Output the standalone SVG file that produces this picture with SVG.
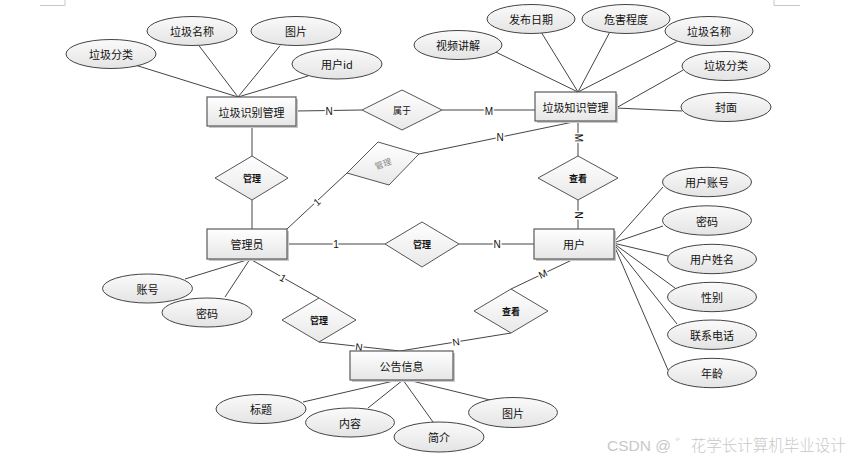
<svg xmlns="http://www.w3.org/2000/svg" width="859" height="461" viewBox="0 0 859 461">
<defs>
<linearGradient id="gEnt" x1="0" y1="0" x2="0" y2="1">
<stop offset="0" stop-color="#ffffff"/>
<stop offset="1" stop-color="#e6e6e6"/>
</linearGradient>
<linearGradient id="gEll" x1="0" y1="0" x2="0" y2="1">
<stop offset="0" stop-color="#fafafa"/>
<stop offset="1" stop-color="#e4e4e4"/>
</linearGradient>
<linearGradient id="gDia" x1="0" y1="0" x2="0" y2="1">
<stop offset="0" stop-color="#ffffff"/>
<stop offset="1" stop-color="#e8e8e8"/>
</linearGradient>
</defs>
<style>
.ent{fill:url(#gEnt);stroke:#5a5a5a;stroke-width:1.2}
.sh{fill:#c8c8c8}
.ell{fill:url(#gEll);stroke:#444;stroke-width:1}
.dia{fill:url(#gDia);stroke:#555;stroke-width:1}
.t{font-family:"Noto Sans CJK SC","Liberation Sans",sans-serif;font-size:11px;fill:#111;text-anchor:middle;dominant-baseline:central}
.td{font-family:"Noto Sans CJK SC","Liberation Sans",sans-serif;font-size:9px;font-weight:bold;fill:#111;text-anchor:middle;dominant-baseline:central}
.tn{font-family:"Noto Sans CJK SC","Liberation Sans",sans-serif;font-size:9px;fill:#111;text-anchor:middle;dominant-baseline:central}
.tg{font-family:"Noto Sans CJK SC","Liberation Sans",sans-serif;font-size:8.5px;fill:#888;text-anchor:middle;dominant-baseline:central}
.lbl{font-family:"Liberation Sans",sans-serif;font-size:10px;fill:#111;text-anchor:middle;dominant-baseline:central;stroke:#fff;stroke-width:3;paint-order:stroke}
.ln{stroke:#444;stroke-width:1;fill:none}
.mark{stroke:#c8c8c8;stroke-width:1;fill:none}
</style>
<rect width="859" height="461" fill="#fff"/>
<path class="mark" d="M40 5.5H65V0M774 0V5.5H800"/>

<g id="connectors">
<path class="ln" d="M135 65L238 97M199 45.7L238 97M280 45.7L238 97M308 76L238 97"/>
<path class="ln" d="M495 51.7L578 92M541.7 33L578 92M609.3 33L578 92M676.7 41.7L578 92M683.3 70L616 108M616 108L682 111"/>
<path class="ln" d="M185 279L250 259M225 297L250 259"/>
<path class="ln" d="M303 402L398 380M368 408L403 380M433 422L403 380M490 400L408 380"/>
<path class="ln" d="M613 243L663 187M613 243L663 226M613 243L668 256M613 243L675 288M613 243L677 324M613 243L668 370"/>
<path class="ln" d="M296 111L362 110M442 110L535 110"/>
<path class="ln" d="M252 126V156M252 200V229"/>
<path class="ln" d="M287 229L347 173M419 154L578 121"/>
<path class="ln" d="M578 121V156M578 200V229"/>
<path class="ln" d="M287 244H385M459 244H534"/>
<path class="ln" d="M250 259L319 298M319 342L400 351M511 333L400 351M511 289L574 259"/>
<text class="lbl" x="329" y="111">N</text>
<text class="lbl" x="489" y="111">M</text>
<text class="lbl" x="317" y="202" transform="rotate(-42 317 202)">1</text>
<text class="lbl" x="500" y="137">N</text>
<text class="lbl" x="578" y="138" transform="rotate(90 578 138)">M</text>
<text class="lbl" x="578" y="215" transform="rotate(90 578 215)">N</text>
<text class="lbl" x="336" y="244">1</text>
<text class="lbl" x="497" y="244">N</text>
<text class="lbl" x="283" y="278" font-size="8" transform="rotate(30 283 278)">1</text>
<text class="lbl" x="359" y="347" font-size="8" transform="rotate(7 359 347)">N</text>
<text class="lbl" x="456" y="342" font-size="8" transform="rotate(-9 456 342)">N</text>
<text class="lbl" x="543" y="274" font-size="8" transform="rotate(-26 543 274)">M</text>
</g>

<g id="e-garbage-recog">
<rect class="sh" x="209" y="99" width="89" height="29"/>
<rect class="ent" x="207" y="97" width="89" height="29"/>
<text class="t" x="251.5" y="111.5">垃圾识别管理</text>
</g>
<g id="e-garbage-know">
<rect class="sh" x="537" y="94" width="81" height="29"/>
<rect class="ent" x="535" y="92" width="81" height="29"/>
<text class="t" x="575.5" y="106.5">垃圾知识管理</text>
</g>
<g id="e-admin">
<rect class="sh" x="209" y="231" width="80" height="30"/>
<rect class="ent" x="207" y="229" width="80" height="30"/>
<text class="t" x="247" y="244">管理员</text>
</g>
<g id="e-user">
<rect class="sh" x="536" y="231" width="80" height="30"/>
<rect class="ent" x="534" y="229" width="80" height="30"/>
<text class="t" x="574" y="244">用户</text>
</g>
<g id="e-notice">
<rect class="sh" x="352" y="353" width="103" height="29"/>
<rect class="ent" x="350" y="351" width="103" height="29"/>
<text class="t" x="401.5" y="365.5">公告信息</text>
</g>

<g id="r-belong">
<polygon class="dia" points="402,90 442,110 402,130 362,110"/>
<text class="tn" x="402" y="110">属于</text>
</g>
<g id="r-manage1">
<polygon class="dia" points="252,156 288,178 252,200 215,178"/>
<text class="td" x="252" y="178">管理</text>
</g>
<g id="r-manage-rot">
<polygon class="dia" points="378,142 419,154 389,185 347,173"/>
<text class="tg" x="383" y="163" transform="rotate(-20 383 163)">管理</text>
</g>
<g id="r-view1">
<polygon class="dia" points="578,156 618,178 578,200 538,178"/>
<text class="td" x="578" y="178">查看</text>
</g>
<g id="r-manage2">
<polygon class="dia" points="422,222 459,244 422,267 385,244"/>
<text class="td" x="422" y="244">管理</text>
</g>
<g id="r-manage3">
<polygon class="dia" points="319,298 356,320 319,342 282,320"/>
<text class="td" x="319" y="320">管理</text>
</g>
<g id="r-view2">
<polygon class="dia" points="511,289 548,311 511,333 474,311"/>
<text class="td" x="511" y="311">查看</text>
</g>

<g id="a-tl-class"><ellipse class="ell" cx="111" cy="54" rx="45" ry="14.5"/><text class="t" x="111" y="54">垃圾分类</text></g>
<g id="a-tl-name"><ellipse class="ell" cx="192" cy="31" rx="45" ry="14.5"/><text class="t" x="192" y="31">垃圾名称</text></g>
<g id="a-tl-pic"><ellipse class="ell" cx="296" cy="31" rx="45" ry="14.5"/><text class="t" x="296" y="31">图片</text></g>
<g id="a-tl-uid"><ellipse class="ell" cx="337" cy="64" rx="45" ry="15"/><text class="t" x="337" y="64">用户id</text></g>

<g id="a-tr-video"><ellipse class="ell" cx="458" cy="45" rx="44" ry="14.5"/><text class="t" x="458" y="45">视频讲解</text></g>
<g id="a-tr-date"><ellipse class="ell" cx="531" cy="19" rx="44" ry="14.5"/><text class="t" x="531" y="19">发布日期</text></g>
<g id="a-tr-harm"><ellipse class="ell" cx="626" cy="19" rx="44" ry="14.5"/><text class="t" x="626" y="19">危害程度</text></g>
<g id="a-tr-name"><ellipse class="ell" cx="709" cy="31" rx="44" ry="14.5"/><text class="t" x="709" y="31">垃圾名称</text></g>
<g id="a-tr-class"><ellipse class="ell" cx="726" cy="66" rx="44" ry="14.5"/><text class="t" x="726" y="65">垃圾分类</text></g>
<g id="a-tr-cover"><ellipse class="ell" cx="726" cy="107" rx="45" ry="14.5"/><text class="t" x="726" y="107">封面</text></g>

<g id="a-acc"><ellipse class="ell" cx="147.5" cy="288.5" rx="45" ry="14.5"/><text class="t" x="147.5" y="288.5">账号</text></g>
<g id="a-pwd"><ellipse class="ell" cx="207" cy="312.5" rx="45" ry="14.5"/><text class="t" x="207" y="312.5">密码</text></g>

<g id="a-title"><ellipse class="ell" cx="261" cy="409" rx="45" ry="14.5"/><text class="t" x="261" y="409">标题</text></g>
<g id="a-content"><ellipse class="ell" cx="350" cy="422.5" rx="44.5" ry="14.5"/><text class="t" x="350" y="422.5">内容</text></g>
<g id="a-intro"><ellipse class="ell" cx="439" cy="437" rx="45" ry="15"/><text class="t" x="439" y="437">简介</text></g>
<g id="a-npic"><ellipse class="ell" cx="513" cy="412.5" rx="44.5" ry="15"/><text class="t" x="513" y="412.5">图片</text></g>

<g id="a-uacc"><ellipse class="ell" cx="707" cy="182" rx="44.5" ry="14.7"/><text class="t" x="707" y="182">用户账号</text></g>
<g id="a-upwd"><ellipse class="ell" cx="707" cy="220.5" rx="44.5" ry="14.7"/><text class="t" x="707" y="220.5">密码</text></g>
<g id="a-uname"><ellipse class="ell" cx="712" cy="259" rx="44.5" ry="14.7"/><text class="t" x="712" y="259">用户姓名</text></g>
<g id="a-usex"><ellipse class="ell" cx="712" cy="297" rx="44.5" ry="14.7"/><text class="t" x="712" y="297">性别</text></g>
<g id="a-utel"><ellipse class="ell" cx="712" cy="334.7" rx="44.5" ry="14.7"/><text class="t" x="712" y="334.7">联系电话</text></g>
<g id="a-uage"><ellipse class="ell" cx="712" cy="373" rx="44.5" ry="14.7"/><text class="t" x="712" y="373">年龄</text></g>

<text x="607" y="451" font-family="'Liberation Sans','Noto Sans CJK SC',sans-serif" font-size="15.5" font-weight="300" fill="#c8c8c8">CSDN @ ゛花学长计算机毕业设计</text>
</svg>
